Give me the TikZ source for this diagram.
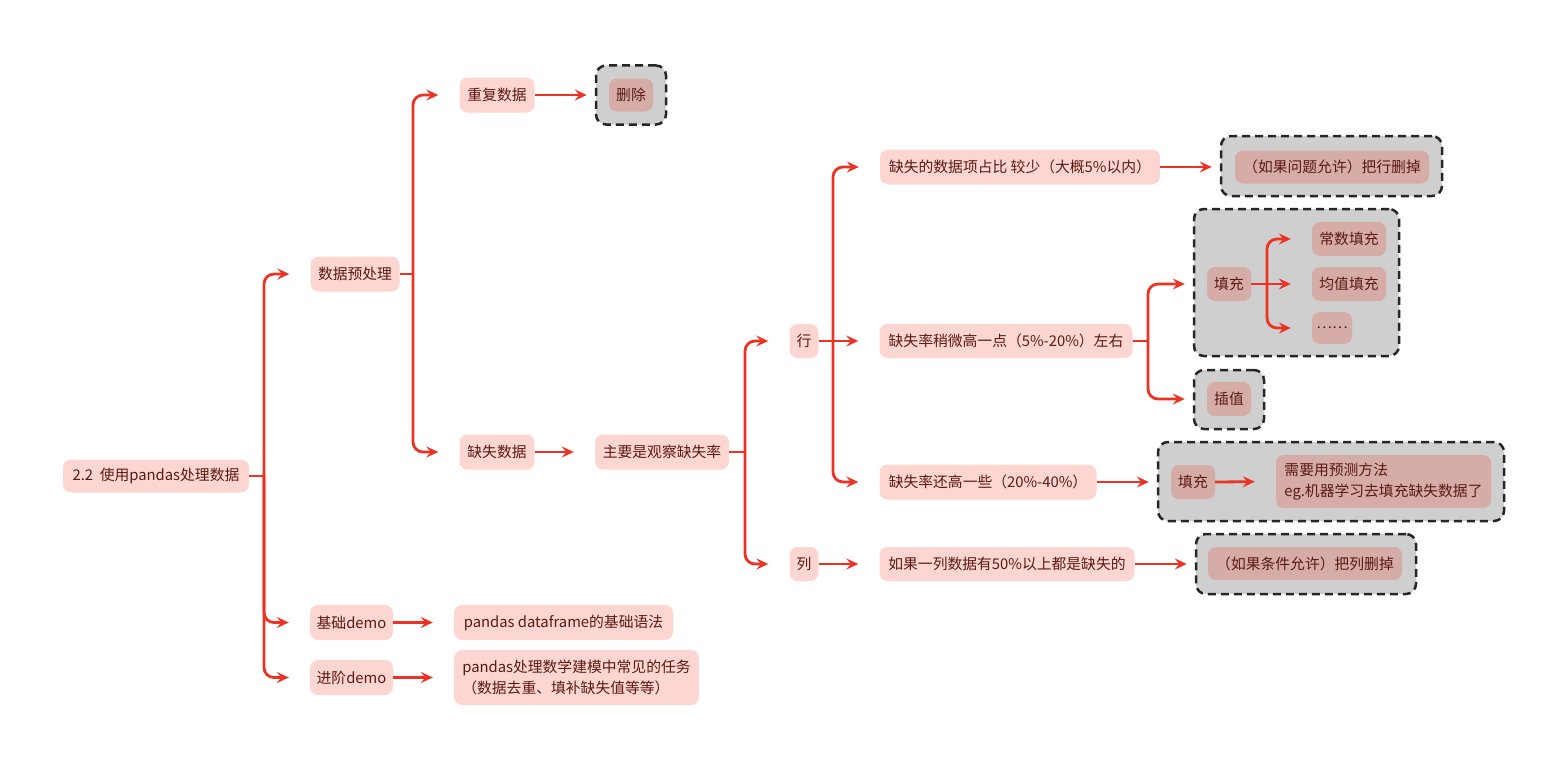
\documentclass[tikz,border=0pt]{standalone}
\usepackage{fontspec}
\setmainfont{Noto Sans CJK SC}
\usetikzlibrary{arrows.meta}
\definecolor{pinkc}{HTML}{FDD6D1}
\definecolor{innerc}{HTML}{D5ACA6}
\definecolor{grayc}{HTML}{CFCFCF}
\definecolor{txtc}{HTML}{5A1A12}
\definecolor{redc}{HTML}{EC3222}
\tikzset{
  box/.style={rectangle, rounded corners=8pt, fill=pinkc, text=txtc, inner sep=0pt,
    font=\fontsize{14.8}{21}\selectfont},
  ibox/.style={box, fill=innerc},
  gbox/.style={rectangle, rounded corners=10pt, fill=grayc, draw=black!85,
    line width=2.5pt, dash pattern=on 8pt off 5pt, inner sep=0pt},
  wire/.style={draw=redc, line width=2.8pt, rounded corners=10pt},
  conn/.style={wire, -{Stealth[length=12pt,width=11pt,inset=4.5pt]}, shorten >=21pt},
  conng/.style={conn, shorten >=8pt},
}
\begin{document}
\begin{tikzpicture}[x=1pt,y=-1pt]
\useasboundingbox (0,0) rectangle (1568,768);
% gray containers
\node[gbox, minimum width=70, minimum height=59] (gdel) at (631,95) {};
\node[gbox, minimum width=221, minimum height=60] (g1) at (1331.5,166) {};
\node[gbox, minimum width=205, minimum height=147] (g2) at (1296.5,282.5) {};
\node[gbox, minimum width=70, minimum height=59] (g3) at (1229,399.5) {};
\node[gbox, minimum width=346, minimum height=79] (g4) at (1331,481.5) {};
\node[gbox, minimum width=220, minimum height=60] (g5) at (1306,564) {};
% nodes
\node[box, minimum width=186, minimum height=33] (root) at (156,476) {2.2\ \ 使用pandas处理数据};
\node[box, minimum width=89, minimum height=35] (pre) at (355,274) {数据预处理};
\node[box, minimum width=75, minimum height=35] (dup) at (497,95) {重复数据};
\node[ibox, minimum width=44, minimum height=33] (del) at (631,95) {删除};
\node[box, minimum width=75, minimum height=35] (miss) at (497,452) {缺失数据};
\node[box, minimum width=134, minimum height=35] (obs) at (662,452) {主要是观察缺失率};
\node[box, minimum width=29, minimum height=34] (row) at (804,341) {行};
\node[box, minimum width=29, minimum height=34] (col) at (804,564) {列};
\node[box, minimum width=280, minimum height=35] (r1) at (1020,167) {缺失的数据项占比 较少（大概5\%以内）};
\node[box, minimum width=253, minimum height=34] (r2) at (1006,341) {缺失率稍微高一点（5\%-20\%）左右};
\node[box, minimum width=217, minimum height=35] (r3) at (988,482) {缺失率还高一些（20\%-40\%）};
\node[box, minimum width=255, minimum height=34] (c1) at (1007,564) {如果一列数据有50\%以上都是缺失的};
\node[ibox, minimum width=194, minimum height=33] (rdel) at (1332,167) {（如果问题允许）把行删掉};
\node[ibox, minimum width=44, minimum height=34] (fill) at (1229,284) {填充};
\node[ibox, minimum width=74, minimum height=34] (const) at (1349,239) {常数填充};
\node[ibox, minimum width=74, minimum height=34] (mean) at (1349,284) {均值填充};
\node[ibox, minimum width=40, minimum height=32] (dots) at (1332,328) {……};
\node[ibox, minimum width=44, minimum height=34] (interp) at (1229,399) {插值};
\node[ibox, minimum width=44, minimum height=34] (pfill) at (1193,482) {填充};
\node[ibox, minimum width=215, minimum height=53, align=left] (pred) at (1383.5,481.5) {需要用预测方法\\eg.机器学习去填充缺失数据了};
\node[ibox, minimum width=194, minimum height=33] (cdel) at (1305,563.5) {（如果条件允许）把列删掉};
\node[box, minimum width=83, minimum height=35] (basic) at (351.5,622.5) {基础demo};
\node[box, minimum width=219, minimum height=35] (basict) at (563.5,622.5) {pandas dataframe的基础语法};
\node[box, minimum width=83, minimum height=35] (adv) at (351.5,677.5) {进阶demo};
\node[box, minimum width=245, minimum height=55, align=left] (advt) at (576.5,677.5) {pandas处理数学建模中常见的任务\\（数据去重、填补缺失值等等）};
% trunk coordinates
\coordinate (t1) at (264,476);
\coordinate (t2) at (413,274);
\coordinate (t3) at (745,452);
\coordinate (t4) at (833,341);
\coordinate (t5) at (1148,341);
\coordinate (t6) at (1267,284);
% connectors
\draw[wire] (root.east) -- (t1);
\draw[conn] (t1) |- (pre.west);
\draw[conn] (t1) |- (basic.west);
\draw[conn] (t1) |- (adv.west);
\draw[wire] (pre.east) -- (t2);
\draw[conn] (t2) |- (dup.west);
\draw[conn] (t2) |- (miss.west);
\draw[conng] (dup.east) -- (gdel.west);
\draw[conn] (miss.east) -- (obs.west);
\draw[wire] (obs.east) -- (t3);
\draw[conn] (t3) |- (row.west);
\draw[conn] (t3) |- (col.west);
\draw[conn] (row.east) -- (r2.west);
\draw[conn] (t4) |- (r1.west);
\draw[conn] (t4) |- (r3.west);
\draw[conn] (col.east) -- (c1.west);
\draw[conng] (r1.east) -- (r1.east -| g1.west);
\draw[wire] (r2.east) -- (t5);
\draw[conng] (t5) |- (g2.west |- fill);
\draw[conng] (t5) |- (g3.west |- interp);
\draw[conng] (r3.east) -- (g4.west |- r3);
\draw[conng] (c1.east) -- (g5.west |- c1);
\draw[wire] (fill.east) -- (t6);
\draw[conn] (t6) |- (const.west);
\draw[conn] (fill.east) -- (mean.west);
\draw[conn] (t6) |- (dots.west -| const.west);
\draw[conn] (pfill.east) -- (pred.west);
\draw[conn] (basic.east) -- (basict.west);
\draw[conn] (adv.east) -- (advt.west);
\end{tikzpicture}
\end{document}
